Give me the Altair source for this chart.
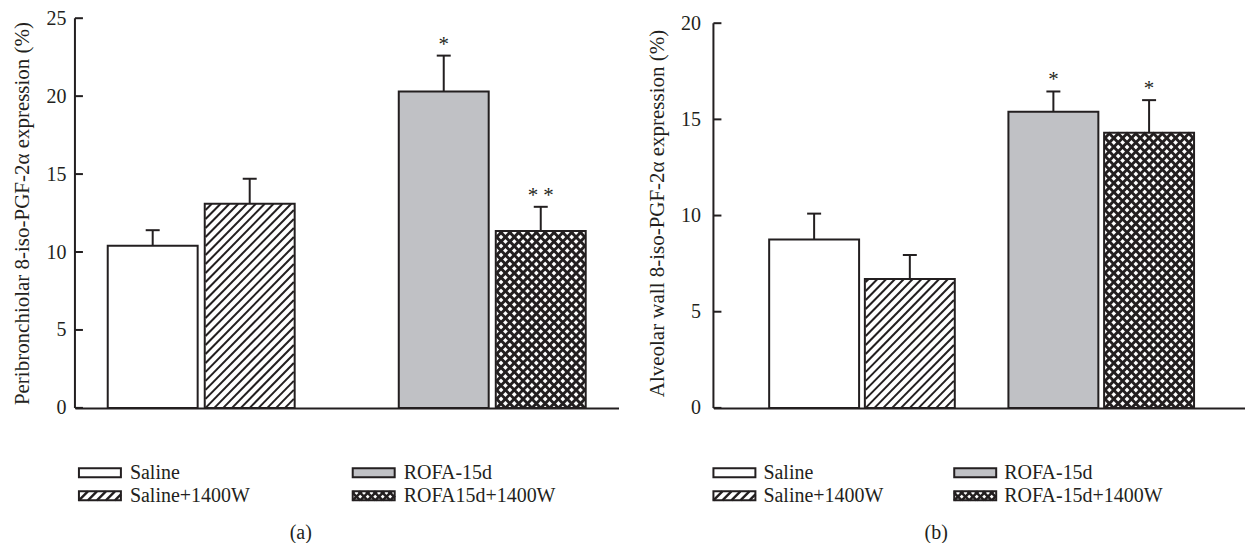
import altair as alt
import pandas as pd

DARK = "#231f20"
GRAY = "#c0c1c5"
FONT = "Liberation Serif"

patterns = ["open", "diagonal", "gray", "cross"]
names_a = ["Saline", "Saline+1400W", "ROFA-15d", "ROFA15d+1400W"]
names_b = ["Saline", "Saline+1400W", "ROFA-15d", "ROFA-15d+1400W"]
pos_a = [1, 2, 4, 5]
pos_b = [1, 2, 3.5, 4.5]
mean_a = [10.4, 13.1, 20.3, 11.35]
err_a = [1.0, 1.6, 2.3, 1.55]
star_a = ["", "", "*", "* *"]
mean_b = [8.75, 6.7, 15.4, 14.3]
err_b = [1.35, 1.25, 1.05, 1.7]
star_b = ["", "", "*", "*"]
ticks_a = [0, 5, 10, 15, 20, 25]
ticks_b = [0, 5, 10, 15, 20]
title_a = "Peribronchiolar 8-iso-PGF-2α expression (%)"
title_b = "Alveolar wall 8-iso-PGF-2α expression (%)"

PLOT_H = 390
BAR_W = 90
FS = 20
TFS = 21

STYLE = {"diagonal": (["/"], 9.0, 2.0), "cross": (["/", "\\"], 9.0, 2.9)}
LEG_STYLE = {"diagonal": (["/"], 9.0, 2.4), "cross": (["/", "\\"], 7.5, 2.6)}


def hatch(x0, x1, h, step, families):
    """Segments of 45-degree hatch lines clipped to [x0,x1] x [0,h] (pixels, y up)."""
    segs = []
    if h <= 0:
        return segs
    for fam in families:
        if fam == "/":
            c = x0 - h - ((x0 - h) % step)
            while c < x1:
                xa, xb = max(x0, c), min(x1, c + h)
                if xb - xa > 0.3:
                    segs.append((xa, xa - c, xb, xb - c))
                c += step
        else:
            c = x0 - (x0 % step)
            while c < x1 + h:
                xa, xb = max(x0, c - h), min(x1, c)
                if xb - xa > 0.3:
                    segs.append((xa, c - xa, xb, c - xb))
                c += step
    return segs


def panel(names, pos, mean, err, star, ticks, width, xdom, axis_px, title,
          caption, leg_cols, leg_text_off, cap_x, label_pad):
    ymax = ticks[-1] * PLOT_H / axis_px
    ux = width / (xdom[1] - xdom[0])
    uy = PLOT_H / ymax
    bars = pd.DataFrame({
        "name": names, "pattern": patterns, "pos": pos, "mean": mean,
        "top": [m + e for m, e in zip(mean, err)], "star": star,
    })
    rows = []
    for p, m, pat in zip(pos, mean, patterns):
        if pat in STYLE:
            fams, step, w = STYLE[pat]
            for xa, ya, xb, yb in hatch(-BAR_W / 2, BAR_W / 2, m * uy, step, fams):
                rows.append({"pos": p + xa / ux, "mean": ya / uy,
                             "hx2": p + xb / ux, "hy2": yb / uy, "w": w})
    hdf = pd.DataFrame(rows)

    xs = alt.Scale(domain=xdom, nice=False, zero=False)
    ys = alt.Scale(domain=[0, ymax], nice=False, zero=True)
    xaxis = alt.Axis(labels=False, ticks=False, grid=False, title=None,
                     domainColor=DARK, domainWidth=2)
    yaxis = alt.Axis(values=ticks, ticks=False, domain=False, grid=False, title=title,
                     labelFont=FONT, labelFontSize=FS, labelColor=DARK, labelPadding=label_pad,
                     titleFont=FONT, titleFontSize=TFS, titleFontWeight="normal", titleColor=DARK,
                     titlePadding=13)
    X = alt.X("pos:Q", scale=xs, axis=xaxis)
    Y = alt.Y("mean:Q", scale=ys, axis=yaxis)
    color = alt.Color("pattern:N", legend=None,
                      scale=alt.Scale(domain=patterns, range=["white", "white", GRAY, "white"]))
    base = alt.Chart(bars)

    fill = base.mark_bar(size=BAR_W, strokeWidth=0).encode(x=X, y=Y, color=color)
    hat = alt.Chart(hdf).mark_rule(color=DARK, strokeCap="butt").encode(
        x=X, x2="hx2", y=Y, y2="hy2",
        strokeWidth=alt.StrokeWidth("w:Q", scale=None),
    )
    outline = base.mark_bar(size=BAR_W, fill="white", fillOpacity=0, stroke=DARK,
                            strokeWidth=2).encode(x=X, y=Y)
    ebar = base.mark_rule(color=DARK, strokeWidth=2).encode(x=X, y=Y, y2="top")
    tops = base.transform_calculate(mean="datum.top")
    cap = tops.mark_tick(orient="horizontal", size=14, thickness=2, color=DARK,
                         opacity=1).encode(x=X, y=Y)
    stars = tops.mark_text(baseline="bottom", dy=-1, font=FONT, fontSize=21,
                           color=DARK).encode(x=X, y=Y, text="star:N")
    tdf = pd.DataFrame({"mean": ticks})
    tick_rules = alt.Chart(tdf).mark_rule(color=DARK, strokeWidth=2).encode(
        x=alt.value(0), x2=alt.value(8), y=Y)
    adf = pd.DataFrame({"mean": [ticks[0]], "hi": [ticks[-1]]})
    axis_line = alt.Chart(adf).mark_rule(color=DARK, strokeWidth=2).encode(
        x=alt.value(0), y=Y, y2="hi")

    # legend (layout in pixels below the plot)
    row_c = [PLOT_H + 65, PLOT_H + 88]
    sw_w, sw_h = 42, 9
    lrows, lseg = [], []
    for i, (nm, pat) in enumerate(zip(names, patterns)):
        x0 = leg_cols[i // 2]
        yc = row_c[i % 2]
        lrows.append({"sx0": x0, "sx1": x0 + sw_w, "sy0": yc - sw_h / 2, "sy1": yc + sw_h / 2,
                      "tx": x0 + leg_text_off, "ty": yc, "label": nm, "pattern": pat})
        if pat in LEG_STYLE:
            fams, step, w = LEG_STYLE[pat]
            for xa, ya, xb, yb in hatch(0, sw_w, sw_h, step, fams):
                lseg.append({"lx1": x0 + xa, "ly1": yc + sw_h / 2 - ya,
                             "lx2": x0 + xb, "ly2": yc + sw_h / 2 - yb, "w": w})
    ldf = pd.DataFrame(lrows)
    lsdf = pd.DataFrame(lseg)
    leg_fill = alt.Chart(ldf).mark_rect(strokeWidth=0).encode(
        x=alt.X("sx0:Q", scale=None), x2="sx1", y=alt.Y("sy0:Q", scale=None), y2="sy1", color=color)
    leg_hatch = alt.Chart(lsdf).mark_rule(color=DARK, strokeCap="butt").encode(
        x=alt.X("lx1:Q", scale=None), x2="lx2", y=alt.Y("ly1:Q", scale=None), y2="ly2",
        strokeWidth=alt.StrokeWidth("w:Q", scale=None))
    leg_out = alt.Chart(ldf).mark_rect(fillOpacity=0, fill="white", stroke=DARK, strokeWidth=2).encode(
        x=alt.X("sx0:Q", scale=None), x2="sx1", y=alt.Y("sy0:Q", scale=None), y2="sy1")
    leg_text = alt.Chart(ldf).mark_text(align="left", baseline="middle", font=FONT, fontSize=FS,
                                        color=DARK).encode(
        x=alt.X("tx:Q", scale=None), y=alt.Y("ty:Q", scale=None), text="label:N")
    cdf = pd.DataFrame({"c": [caption]})
    cap_text = alt.Chart(cdf).mark_text(align="center", baseline="middle", font=FONT, fontSize=FS,
                                        color=DARK).encode(
        x=alt.value(cap_x), y=alt.value(PLOT_H + 125), text="c:N")

    return alt.layer(fill, hat, outline, ebar, cap, stars, tick_rules, axis_line,
                     leg_fill, leg_hatch, leg_out, leg_text, cap_text).properties(
        width=width, height=PLOT_H)


pa = panel(names_a, pos_a, mean_a, err_a, star_a, ticks_a, 544, [0.25, 5.75], 390, title_a,
           "(a)", [4, 278], 51, 226, 9)
pb = panel(names_b, pos_b, mean_b, err_b, star_b, ticks_b, 532, [0, 5.45], 385, title_b,
           "(b)", [0, 241], 50, 223, 13)

chart = alt.hconcat(pa, pb, spacing=95, bounds="flush").resolve_scale(
    x="independent", y="independent", color="independent"
).configure_view(strokeWidth=0).properties(
    padding={"left": 12, "top": 8, "right": 0, "bottom": 0}, background="white")

chart.save("out.html", embed_options={"renderer": "svg", "actions": False})
